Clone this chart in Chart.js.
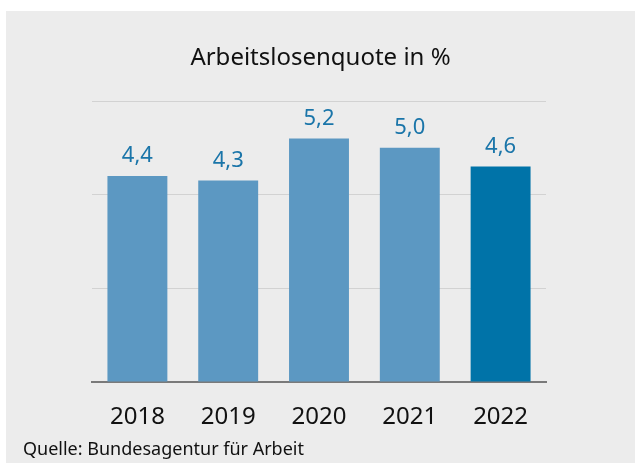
<!DOCTYPE html>
<html>
<head>
<meta charset="utf-8">
<script src="https://cdn.jsdelivr.net/npm/chart.js@4"></script>
<style>
  html, body { margin: 0; padding: 0; background: #fff; }
  #panel {
    position: absolute; left: 6px; top: 11px; width: 629px; height: 452px;
    background: #ececec; font-family: "Noto Sans", sans-serif;
  }
  #chart { position: absolute; left: 0; top: 0; }
  #title {
    position: absolute; left: 0; width: 629px; top: 28px; text-align: center;
    font-size: 24px; color: #111;
  }
  #source {
    position: absolute; left: 17px; top: 425px; font-size: 18px; color: #111;
  }
</style>
</head>
<body>
<div id="panel">
  <canvas id="chart" width="629" height="452"></canvas>
  <div id="title">Arbeitslosenquote in %</div>
  <div id="source">Quelle: Bundesagentur für Arbeit</div>
</div>
<script>
const years = ["2018", "2019", "2020", "2021", "2022"];
const rates = [4.4, 4.3, 5.2, 5.0, 4.6];
const barColors = ["#5c98c2", "#5c98c2", "#5c98c2", "#5c98c2", "#0073a8"];
const yMin = 0;
const yMax = 6;
const yStep = 2;

function formatDe(v) {
  return v.toFixed(1).replace(".", ",");
}

const valueLabels = {
  id: "valueLabels",
  afterDatasetsDraw(chart) {
    const ctx = chart.ctx;
    const meta = chart.getDatasetMeta(0);
    ctx.save();
    ctx.font = '22px "Noto Sans", sans-serif';
    ctx.fillStyle = "#1a75a9";
    ctx.textAlign = "center";
    ctx.textBaseline = "bottom";
    meta.data.forEach((bar, i) => {
      ctx.fillText(formatDe(rates[i]), bar.x, bar.y - 9);
    });
    ctx.restore();
  },
};

const ctx = document.getElementById("chart").getContext("2d");
new Chart(ctx, {
  type: "bar",
  data: {
    labels: years,
    datasets: [
      {
        data: rates,
        backgroundColor: barColors,
        categoryPercentage: 1,
        barPercentage: 0.66,
      },
    ],
  },
  options: {
    responsive: false,
    animation: false,
    layout: { padding: { left: 86, right: 89, top: 90, bottom: 0 } },
    plugins: {
      legend: { display: false },
      tooltip: { enabled: false },
    },
    scales: {
      x: {
        grid: { display: false, drawTicks: false },
        border: { display: true, color: "#7a7a7a", width: 2 },
        ticks: {
          color: "#111",
          font: { family: "Noto Sans", size: 24 },
          padding: 21,
        },
        afterFit(scale) {
          scale.height = 81;
        },
      },
      y: {
        min: yMin,
        max: yMax,
        ticks: { display: false, stepSize: yStep },
        grid: { color: "#d2d2d2", lineWidth: 1, drawTicks: false },
        border: { display: false },
        afterFit(scale) {
          scale.width = 0;
        },
      },
    },
  },
  plugins: [valueLabels],
});
</script>
</body>
</html>
